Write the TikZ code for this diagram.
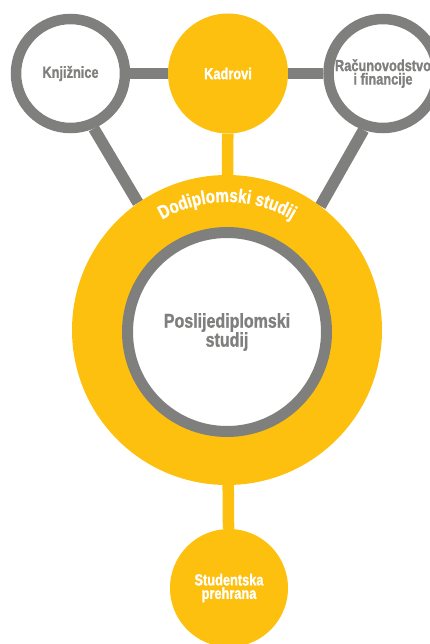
\documentclass[tikz,border=0pt]{standalone}
\usepackage{fontspec}
\usetikzlibrary{backgrounds,calc,decorations.text}
\newfontfamily\condfont{Liberation Sans}[FakeStretch=0.8,BoldFeatures={FakeBold=1.2}]
\newcommand\arcfont{\condfont\bfseries\fontsize{19}{19}\selectfont}
\definecolor{unizut}{HTML}{FDC00F}
\definecolor{unisiva}{HTML}{7F807E}

\begin{document}
\begin{tikzpicture}[x=1pt,y=1pt,
	ring/.style={circle,draw=unisiva,line width=10.5pt,fill=white,minimum size=109pt,inner sep=0pt,
		text=unisiva,align=center,font=\condfont\bfseries\fontsize{16}{13.5}\selectfont},
	disc/.style={circle,fill=unizut,minimum size=120pt,inner sep=0pt,
		text=white,align=center,font=\condfont\bfseries\fontsize{16}{13.5}\selectfont},
	bar/.style={line width=11.5pt}]
	\useasboundingbox (0,0) rectangle (429,-644);

	\node[ring] (knj) at (70.5,-73.5) {Knjižnice};
	\node[disc] (kad) at (228,-73.5) {Kadrovi};
	\node[ring] (rac) at (383,-73.5) {Računovodstvo\\i financije};

	\node[disc,minimum size=310pt] (dodip) at (227,-330) {};
	\node[ring,minimum size=199pt,line width=11pt,font=\condfont\bfseries\fontsize{20}{19}\selectfont] (posl) at (227,-332) {Poslijediplomski\\studij};
	\node[disc,minimum size=118pt] (stud) at (229,-588) {Studentska\\prehrana};

	\path[decorate,decoration={text along path,text align=center,text color=white,
		text={|\arcfont|Dodiplomski studij}}] ($(dodip.center)+(150:128)$) arc[start angle=150,end angle=30,radius=128];

	\begin{scope}[on background layer]
		\draw[bar,unisiva] (knj) -- (kad);
		\draw[bar,unisiva] (kad) -- (rac);
		\draw[bar,unisiva] (knj.-67) -- (dodip.125);
		\draw[bar,unisiva] (rac.-109) -- (dodip.53);
		\draw[bar,unizut] (kad) -- (dodip);
		\draw[bar,unizut] (dodip) -- (stud);
	\end{scope}
\end{tikzpicture}
\end{document}
